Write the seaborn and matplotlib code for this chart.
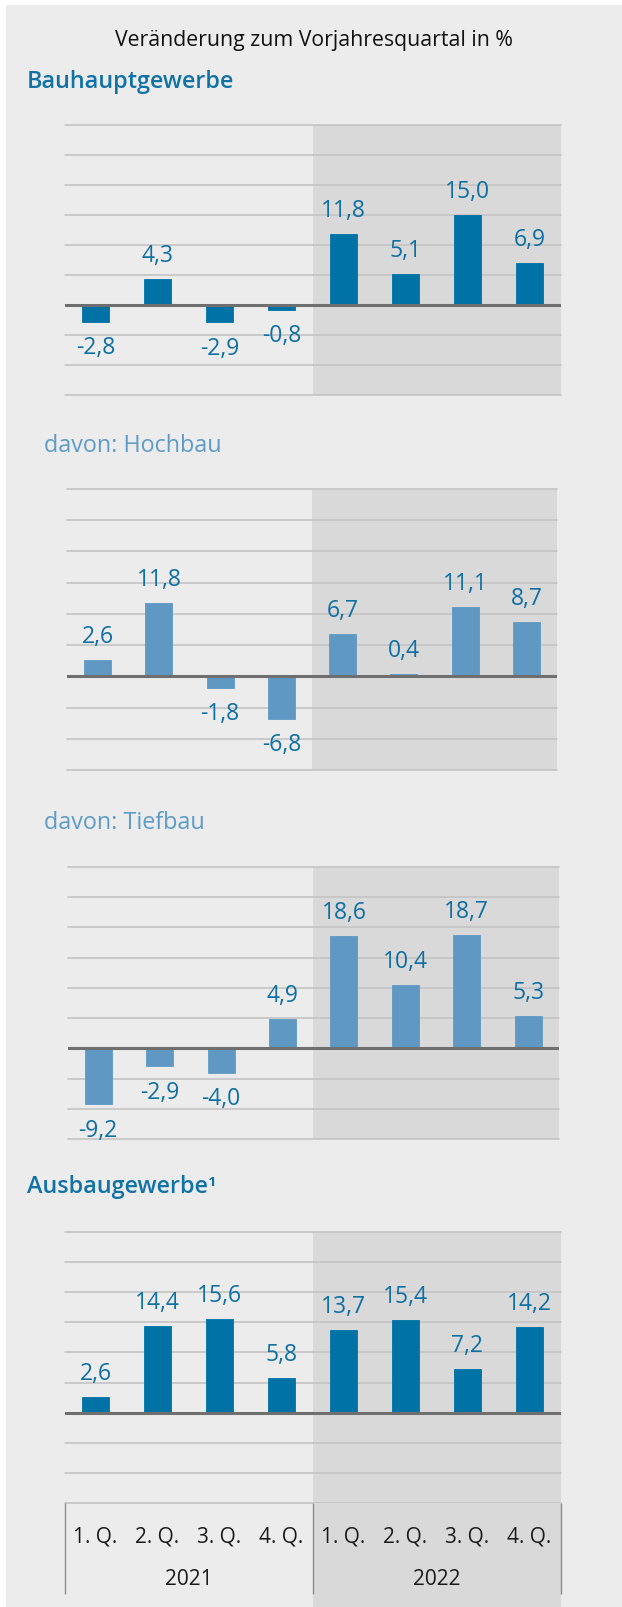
import numpy as np
import pandas as pd
import matplotlib
matplotlib.use("Agg")
import matplotlib.pyplot as plt
from matplotlib.patches import Rectangle
import seaborn as sns

# Daten (Veränderung zum Vorjahresquartal in %)
quarters = ["1. Q.", "2. Q.", "3. Q.", "4. Q.", "1. Q.", "2. Q.", "3. Q.", "4. Q."]
years = ["2021", "2022"]
bauhaupt = [-2.8, 4.3, -2.9, -0.8, 11.8, 5.1, 15.0, 6.9]
hochbau = [2.6, 11.8, -1.8, -6.8, 6.7, 0.4, 11.1, 8.7]
tiefbau = [-9.2, -2.9, -4.0, 4.9, 18.6, 10.4, 18.7, 5.3]
ausbau = [2.6, 14.4, 15.6, 5.8, 13.7, 15.4, 7.2, 14.2]
y_ticks = [-15, -10, -5, 0, 5, 10, 15, 20, 25, 30]

sns.set_style("white")
plt.rcParams['font.family'] = ['Open Sans', 'DejaVu Sans']

BG = "#ececec"
SHADE = "#d9d9d9"
GRID = "#c4c4c4"
ZERO = "#6f6f6f"
DARK = "#0072a5"
LIGHT = "#5f99c3"
LABEL = "#0e6fa3"
TITLE_DARK = "#1172a6"
TITLE_LIGHT = "#5e9cc8"

W, H = 622, 1608
fig = plt.figure(figsize=(W / 100, H / 100), dpi=100, facecolor="white")
fig.add_artist(Rectangle((6 / W, 0), 1, 1 - 6 / H, transform=fig.transFigure,
                         facecolor=BG, edgecolor="none", zorder=-10))


def px_axes(left, top, right, bottom):
    # Achsen in Pixelkoordinaten (von oben gemessen)
    return fig.add_axes([left / W, 1 - bottom / H, (right - left) / W, (bottom - top) / H])


def fmt(v):
    return f"{v:.1f}".replace(".", ",")


fig.text(314 / W, 1 - 46 / H, "Veränderung zum Vorjahresquartal in %",
         ha="center", va="baseline", fontsize=15.3, color="#111111")

panels = [
    ("Bauhauptgewerbe", bauhaupt, DARK, TITLE_DARK, "semibold", (27, 88), (64.5, 125.7, 560.5, 396)),
    ("davon: Hochbau", hochbau, LIGHT, TITLE_LIGHT, "normal", (44, 452), (67, 490, 557, 771)),
    ("davon: Tiefbau", tiefbau, LIGHT, TITLE_LIGHT, "normal", (44, 829), (67.5, 868, 559, 1140)),
    ("Ausbaugewerbe\u00b9", ausbau, DARK, TITLE_DARK, "semibold", (27, 1193), (64.5, 1233, 560.5, 1504)),
]

for title, values, bar_color, title_color, weight, (tx, ty), box in panels:
    fig.text(tx / W, 1 - ty / H, title, ha="left", va="baseline",
             fontsize=16.8, color=title_color, fontweight=weight)

    ax = px_axes(*box)
    ax.set_facecolor("none")
    df = pd.DataFrame({"key": [f"{i}" for i in range(len(values))], "value": values})
    sns.barplot(data=df, x="key", y="value", ax=ax, color=bar_color, width=0.44,
                saturation=1, edgecolor=bar_color, linewidth=0.6, zorder=2)
    for p in ax.patches:
        p.set_facecolor(bar_color)
    ax.set_xlim(-0.5, 7.5)
    ax.set_ylim(-15, 30)
    ax.axvspan(3.5, 7.5, color=SHADE, zorder=0, lw=0)
    for t in y_ticks:
        if t == 0:
            continue
        ax.axhline(t, color=GRID, lw=1.2, zorder=1, clip_on=False)
    ax.axhline(0, color=ZERO, lw=2.2, zorder=3)

    for i, v in enumerate(values):
        off = 17.3 if v >= 0 else -18.5
        ax.annotate(fmt(v), (i, v), xytext=(0, off), textcoords="offset points",
                    ha="center", va="center", fontsize=16.5, color=LABEL)

    ax.set_xlabel("")
    ax.set_ylabel("")
    ax.set_xticks([])
    ax.set_yticks([])
    sns.despine(ax=ax, left=True, bottom=True)

# Beschriftung der Quartale / Jahre
ax_t = px_axes(64.5, 1504, 560.5, 1608)
ax_t.set_xlim(-0.5, 7.5)
ax_t.set_ylim(104, 0)
ax_t.axis("off")
ax_t.axvspan(3.5, 7.5, color=SHADE, zorder=0, lw=0)
ax_t.vlines([-0.5, 3.5, 7.5], 0, 91, colors="#8c8c8c", lw=1, clip_on=False)
for i, q in enumerate(quarters):
    ax_t.text(i, 33, q, ha="center", va="center", fontsize=15, color="#1a1a1a")
for j, yr in enumerate(years):
    ax_t.text(1.5 + 4 * j, 76, yr, ha="center", va="center", fontsize=15, color="#1a1a1a")

fig.savefig("out.png", dpi=100, facecolor="white")
